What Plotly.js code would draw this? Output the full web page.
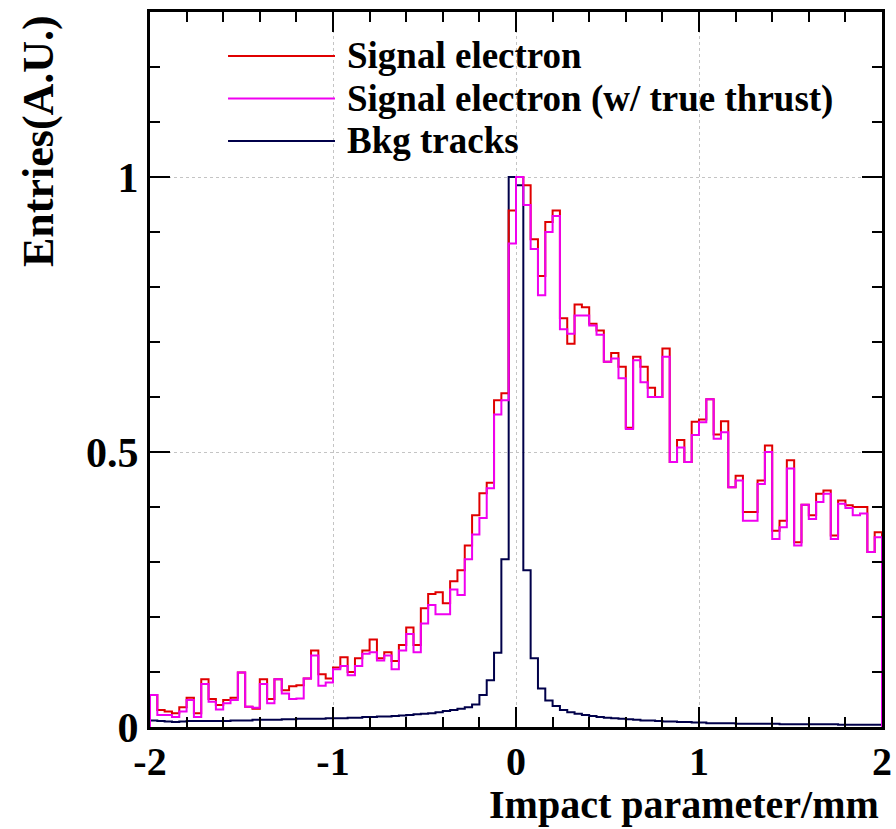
<!DOCTYPE html>
<html>
<head>
<meta charset="utf-8">
<script src="https://cdn.plot.ly/plotly-3.0.1.min.js"></script>
<style>html,body{margin:0;padding:0;background:#fff;}#chart{width:896px;height:829px;}</style>
</head>
<body>
<div id="chart"></div>
<script>
// Histogram binning (100 bins from -2 to 2 mm)
const xMin = -2;
const binWidth = 0.04;

// Series names
const seriesNames = ["Signal electron", "Signal electron (w/ true thrust)", "Bkg tracks"];

// Signal electron (red), normalized entries per bin
const signalElectron = [
  0.058, 0.031, 0.028, 0.025, 0.036, 0.053, 0.025, 0.087, 0.051, 0.040,
  0.049, 0.053, 0.099, 0.037, 0.033, 0.087, 0.051, 0.087, 0.067, 0.074,
  0.076, 0.088, 0.139, 0.096, 0.088, 0.108, 0.127, 0.100, 0.125, 0.139,
  0.159, 0.125, 0.136, 0.120, 0.149, 0.181, 0.149, 0.216, 0.242, 0.245,
  0.225, 0.265, 0.285, 0.330, 0.385, 0.425, 0.444, 0.594, 0.607, 0.939,
  1.000, 0.985, 0.887, 0.820, 0.918, 0.939, 0.743, 0.697, 0.768, 0.763,
  0.733, 0.721, 0.664, 0.680, 0.655, 0.544, 0.673, 0.655, 0.617, 0.600,
  0.688, 0.482, 0.522, 0.482, 0.555, 0.559, 0.596, 0.532, 0.556, 0.436,
  0.457, 0.391, 0.391, 0.448, 0.512, 0.357, 0.375, 0.485, 0.336, 0.404,
  0.385, 0.424, 0.430, 0.348, 0.412, 0.403, 0.400, 0.400, 0.318, 0.354
];

// Signal electron with true thrust (magenta)
const signalTrueThrust = [
  0.058, 0.022, 0.022, 0.018, 0.028, 0.049, 0.018, 0.078, 0.046, 0.032,
  0.043, 0.049, 0.099, 0.037, 0.035, 0.078, 0.043, 0.087, 0.061, 0.051,
  0.052, 0.088, 0.130, 0.075, 0.081, 0.105, 0.111, 0.094, 0.111, 0.133,
  0.136, 0.121, 0.130, 0.105, 0.139, 0.169, 0.136, 0.188, 0.222, 0.205,
  0.205, 0.250, 0.240, 0.305, 0.350, 0.380, 0.434, 0.568, 0.594, 0.879,
  1.000, 0.949, 0.869, 0.785, 0.900, 0.929, 0.723, 0.715, 0.748, 0.748,
  0.730, 0.713, 0.664, 0.670, 0.634, 0.542, 0.667, 0.627, 0.600, 0.600,
  0.673, 0.482, 0.508, 0.482, 0.531, 0.554, 0.596, 0.524, 0.536, 0.436,
  0.448, 0.375, 0.375, 0.442, 0.500, 0.342, 0.363, 0.470, 0.330, 0.404,
  0.378, 0.409, 0.424, 0.342, 0.406, 0.398, 0.385, 0.388, 0.318, 0.345
];

// Background tracks (navy)
const bkgTracks = [
  0.012, 0.011, 0.010, 0.009, 0.010, 0.011, 0.011, 0.011, 0.011, 0.011,
  0.011, 0.012, 0.012, 0.012, 0.013, 0.013, 0.013, 0.013, 0.014, 0.014,
  0.015, 0.015, 0.015, 0.015, 0.016, 0.016, 0.016, 0.017, 0.017, 0.018,
  0.018, 0.019, 0.019, 0.020, 0.021, 0.022, 0.023, 0.024, 0.025, 0.027,
  0.029, 0.031, 0.033, 0.036, 0.041, 0.058, 0.085, 0.135, 0.305, 1.000,
  0.985, 0.285, 0.125, 0.070, 0.048, 0.038, 0.031, 0.027, 0.024, 0.022,
  0.020, 0.018, 0.017, 0.016, 0.015, 0.014, 0.013, 0.012, 0.012, 0.011,
  0.010, 0.010, 0.009, 0.009, 0.008, 0.008, 0.007, 0.007, 0.007, 0.007,
  0.006, 0.006, 0.006, 0.006, 0.006, 0.006, 0.005, 0.005, 0.005, 0.005,
  0.005, 0.005, 0.005, 0.005, 0.004, 0.004, 0.004, 0.004, 0.004, 0.004
];

// Axis tick labels
const xTickVals = [-2, -1, 0, 1, 2];
const xTickText = ["-2", "-1", "0", "1", "2"];
const yTickVals = [0, 0.5, 1];
const yTickText = ["0", "0.5", "1"];

const colors = ["#e00000", "#f000f0", "#00004a"];

function outline(vals) {
  const xs = [xMin], ys = [0];
  for (let i = 0; i < vals.length; i++) {
    xs.push(xMin + i * binWidth);
    ys.push(vals[i]);
  }
  const xEnd = xMin + vals.length * binWidth;
  xs.push(xEnd); ys.push(vals[vals.length - 1]);
  xs.push(xEnd); ys.push(0);
  return {x: xs, y: ys};
}

const seriesData = [signalElectron, signalTrueThrust, bkgTracks];
const drawOrder = [2, 0, 1];
const traces = drawOrder.map(function (k) {
  const o = outline(seriesData[k]);
  return {
    type: "scatter", mode: "lines", name: seriesNames[k],
    x: o.x, y: o.y,
    line: {shape: "hv", color: colors[k], width: 2},
    showlegend: false, hoverinfo: "skip"
  };
});

const FONT = "Liberation Serif, Times New Roman, serif";

// custom legend (long line samples like the ROOT legend)
const legendRows = [0.9385, 0.879, 0.8196];
const shapes = [];
const annotations = [];
for (let k = 0; k < 3; k++) {
  shapes.push({
    type: "line", xref: "paper", yref: "paper",
    x0: 0.1066, x1: 0.2527, y0: legendRows[k], y1: legendRows[k],
    line: {color: colors[k], width: 2}
  });
  annotations.push({
    xref: "paper", yref: "paper", x: 0.268, y: legendRows[k],
    xanchor: "left", yanchor: "middle", showarrow: false, borderpad: 0,
    text: seriesNames[k],
    font: {family: FONT, size: 37, color: "#000", weight: "bold"}
  });
}
// axis titles (ROOT style: aligned to the axis end)
annotations.push({
  xref: "paper", yref: "paper", x: 1, y: 0, xanchor: "right", yanchor: "bottom",
  yshift: -101, xshift: -2, showarrow: false, borderpad: 0,
  text: "Impact parameter/mm",
  font: {family: FONT, size: 40, color: "#000", weight: "bold"}
});
annotations.push({
  xref: "paper", yref: "paper", x: 0, y: 1, xanchor: "center", yanchor: "top",
  xshift: -112, yshift: -2, textangle: -90, showarrow: false, borderpad: 0,
  text: "Entries(A.U.)",
  font: {family: FONT, size: 44, color: "#000", weight: "bold"}
});

const axisCommon = {
  showline: true, linecolor: "#000", linewidth: 3, mirror: "ticks",
  ticks: "inside", ticklen: 20, tickwidth: 2.5, tickcolor: "#000",
  showgrid: true, gridcolor: "#c4c4c4", griddash: "dot", gridwidth: 1,
  zeroline: false, tickmode: "array",
  tickfont: {family: FONT, size: 40, color: "#000", weight: "bold"}
};

const layout = {
  width: 896, height: 829,
  margin: {l: 150, r: 14, t: 12, b: 102},
  paper_bgcolor: "#fff", plot_bgcolor: "#fff",
  showlegend: false,
  xaxis: Object.assign({}, axisCommon, {
    range: [-2, 2], tickvals: xTickVals, ticktext: xTickText,
    ticklabelstandoff: -3,
    minor: {dtick: 0.2, tick0: -2, ticks: "inside", ticklen: 10, tickwidth: 2, tickcolor: "#000", showgrid: false}
  }),
  yaxis: Object.assign({}, axisCommon, {
    range: [0, 1.3], tickvals: yTickVals, ticktext: yTickText,
    tickfont: {family: FONT, size: 42, color: "#000", weight: "bold"},
    minor: {dtick: 0.1, tick0: 0, ticks: "inside", ticklen: 10, tickwidth: 2, tickcolor: "#000", showgrid: false}
  }),
  shapes: shapes,
  annotations: annotations
};

Plotly.newPlot("chart", traces, layout, {staticPlot: true, displayModeBar: false});
</script>
</body>
</html>
